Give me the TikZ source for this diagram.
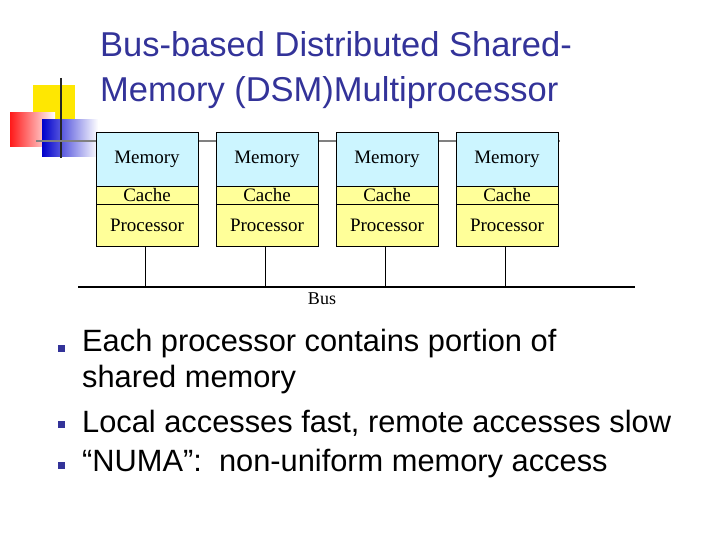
\documentclass[tikz,border=0pt]{standalone}
\usepackage{fontspec}
\setmainfont{Liberation Sans}
\newfontfamily\tms{Liberation Serif}
\definecolor{ttl}{HTML}{333399}
\definecolor{memc}{HTML}{CCF5FF}
\definecolor{prc}{HTML}{FFFF99}
\begin{document}
\begin{tikzpicture}[x=1pt,y=-1pt,
  box/.style={draw=black,line width=0.6pt,minimum width=102pt,inner sep=0pt,font=\tms\fontsize{19}{19}\selectfont},
  mem/.style={box,fill=memc,minimum height=54pt},
  cac/.style={box,fill=prc,minimum height=18pt},
  pro/.style={box,fill=prc,minimum height=42pt},
  bul/.style={fill=ttl,minimum size=7pt,inner sep=0pt}]
\useasboundingbox (0,0) rectangle (720,540);
% logo
\fill[yellow!90!orange] (33,85) rectangle (75,127);
\shade[left color=red!90,right color=white] (10,113) rectangle (55,147);
\shade[left color=blue!80!black,right color=white] (42,120) rectangle (98,157);
\draw[line width=2pt,black!85] (61,78) -- (61,158);
\draw[line width=2.5pt,gray] (36,141) -- (560,141);
\node[anchor=west,align=left,text=ttl,font=\fontsize{34.5}{45}\selectfont,inner sep=0pt] (title) at (100,70) {Bus-based Distributed Shared-\\Memory (DSM)Multiprocessor};
\foreach \i/\x in {1/147,2/267,3/387,4/507}{
  \node[mem] (m\i) at (\x,159) {Memory};
  \node[cac] (c\i) at (\x,195) {Cache};
  \node[pro] (p\i) at (\x,225) {Processor};
  \coordinate (b\i) at (\x-2,287);
  \draw[line width=0.6pt] (p\i.south -| b\i) -- (b\i);
}
\coordinate (bl) at (78,287); \coordinate (br) at (635,287);
\draw[line width=1.2pt] (bl) -- (br);
\node[font=\tms\fontsize{18}{18}\selectfont] (bus) at (322,299) {Bus};
\node[bul] (s1) at (61,348) {};
\node[bul] (s2) at (61,424) {};
\node[bul] (s3) at (61,465) {};
\node[anchor=west,align=left,font=\fontsize{30.8}{36}\selectfont,inner sep=0pt] (t1) at (82,362) {Each processor contains portion of\\shared memory};
\node[anchor=west,font=\fontsize{30.8}{30}\selectfont,inner sep=0pt] (t2) at (82,423) {Local accesses fast, remote accesses slow};
\node[anchor=west,font=\fontsize{30.8}{30}\selectfont,inner sep=0pt] (t3) at (82,464) {“NUMA”:\ \ non-uniform memory access};
\end{tikzpicture}
\end{document}
